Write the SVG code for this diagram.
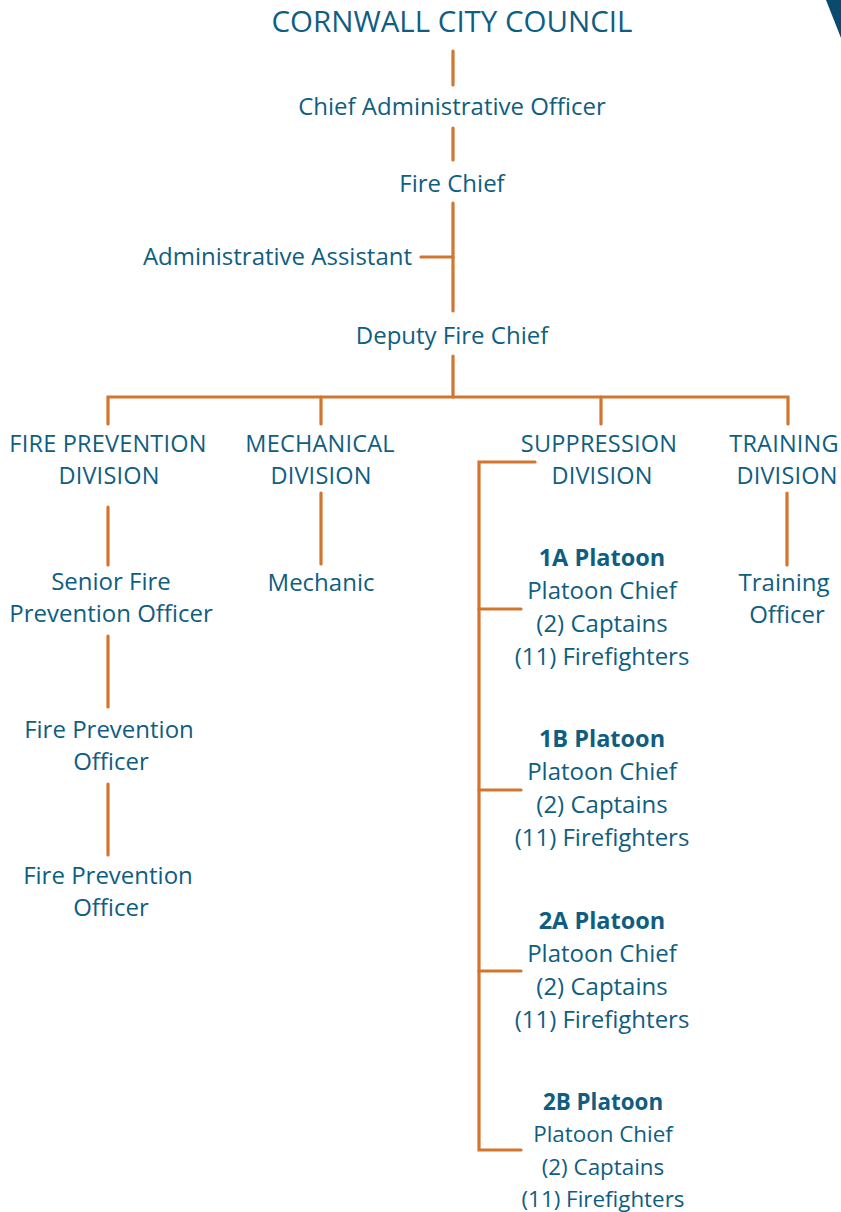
<svg xmlns="http://www.w3.org/2000/svg" width="841" height="1212" viewBox="0 0 841 1212">
<style>
text{font-family:"Open Sans","Noto Sans",sans-serif;fill:#0f5e82;text-anchor:middle;font-size:24px}
.t{font-size:29.5px}
.d{font-size:23.5px;letter-spacing:0.2px}
.b{font-weight:bold;font-size:23.5px}
.s{font-size:22.4px}
.c line,.c path{stroke:#d2762f;stroke-width:3.2;stroke-linecap:round;fill:none}
</style>
<rect width="841" height="1212" fill="#ffffff"/>
<polygon points="826,0 841,0 841,38" fill="#0b4a6e"/>
<g class="c" id="connectors">
<line x1="453" y1="51" x2="453" y2="85"/>
<line x1="453" y1="128" x2="453" y2="160"/>
<line x1="453" y1="203" x2="453" y2="311"/>
<line x1="421" y1="257" x2="453" y2="257"/>
<line x1="453" y1="356" x2="453" y2="397"/>
<path d="M108,424 V397 H788 V424"/>
<line x1="321" y1="397" x2="321" y2="424"/>
<line x1="601" y1="397" x2="601" y2="424"/>
<line x1="108" y1="507" x2="108" y2="565"/>
<line x1="108" y1="636" x2="108" y2="707"/>
<line x1="108" y1="784" x2="108" y2="855"/>
<line x1="321" y1="493" x2="321" y2="564"/>
<line x1="787" y1="493" x2="787" y2="565"/>
<path d="M535,462 H479 V1150 H521"/>
<line x1="479" y1="609" x2="521" y2="609"/>
<line x1="479" y1="790" x2="521" y2="790"/>
<line x1="479" y1="971" x2="521" y2="971"/>
</g>
<g id="council"><text class="t" x="452" y="32">CORNWALL CITY COUNCIL</text></g>
<g id="cao"><text x="452" y="115">Chief Administrative Officer</text></g>
<g id="fire-chief"><text x="452" y="192">Fire Chief</text></g>
<g id="admin-assistant"><text x="412" y="265" style="text-anchor:end">Administrative Assistant</text></g>
<g id="deputy"><text x="452" y="344">Deputy Fire Chief</text></g>
<g id="fire-prevention-div"><text class="d" x="108" y="452">FIRE PREVENTION</text><text class="d" x="109" y="484">DIVISION</text></g>
<g id="mechanical-div"><text class="d" x="320" y="452">MECHANICAL</text><text class="d" x="321" y="484">DIVISION</text></g>
<g id="suppression-div"><text class="d" x="599" y="452">SUPPRESSION</text><text class="d" x="602" y="484">DIVISION</text></g>
<g id="training-div"><text class="d" x="784" y="452">TRAINING</text><text class="d" x="787" y="484">DIVISION</text></g>
<g id="senior-fpo"><text x="111" y="590">Senior Fire</text><text x="111" y="622">Prevention Officer</text></g>
<g id="fpo1"><text x="109" y="738">Fire Prevention</text><text x="111" y="770">Officer</text></g>
<g id="fpo2"><text x="108" y="884">Fire Prevention</text><text x="111" y="916">Officer</text></g>
<g id="mechanic"><text x="321" y="591">Mechanic</text></g>
<g id="training-officer"><text x="784" y="591">Training</text><text x="787" y="623">Officer</text></g>
<g id="platoon-1a"><text class="b" x="602" y="566">1A Platoon</text><text x="602" y="599">Platoon Chief</text><text x="602" y="632">(2) Captains</text><text x="602" y="665">(11) Firefighters</text></g>
<g id="platoon-1b"><text class="b" x="602" y="747">1B Platoon</text><text x="602" y="780">Platoon Chief</text><text x="602" y="813">(2) Captains</text><text x="602" y="846">(11) Firefighters</text></g>
<g id="platoon-2a"><text class="b" x="602" y="929">2A Platoon</text><text x="602" y="962">Platoon Chief</text><text x="602" y="995">(2) Captains</text><text x="602" y="1028">(11) Firefighters</text></g>
<g id="platoon-2b"><text class="b s" x="603" y="1110">2B Platoon</text><text class="s" x="603" y="1142">Platoon Chief</text><text class="s" x="603" y="1175">(2) Captains</text><text class="s" x="603" y="1207">(11) Firefighters</text></g>
</svg>
